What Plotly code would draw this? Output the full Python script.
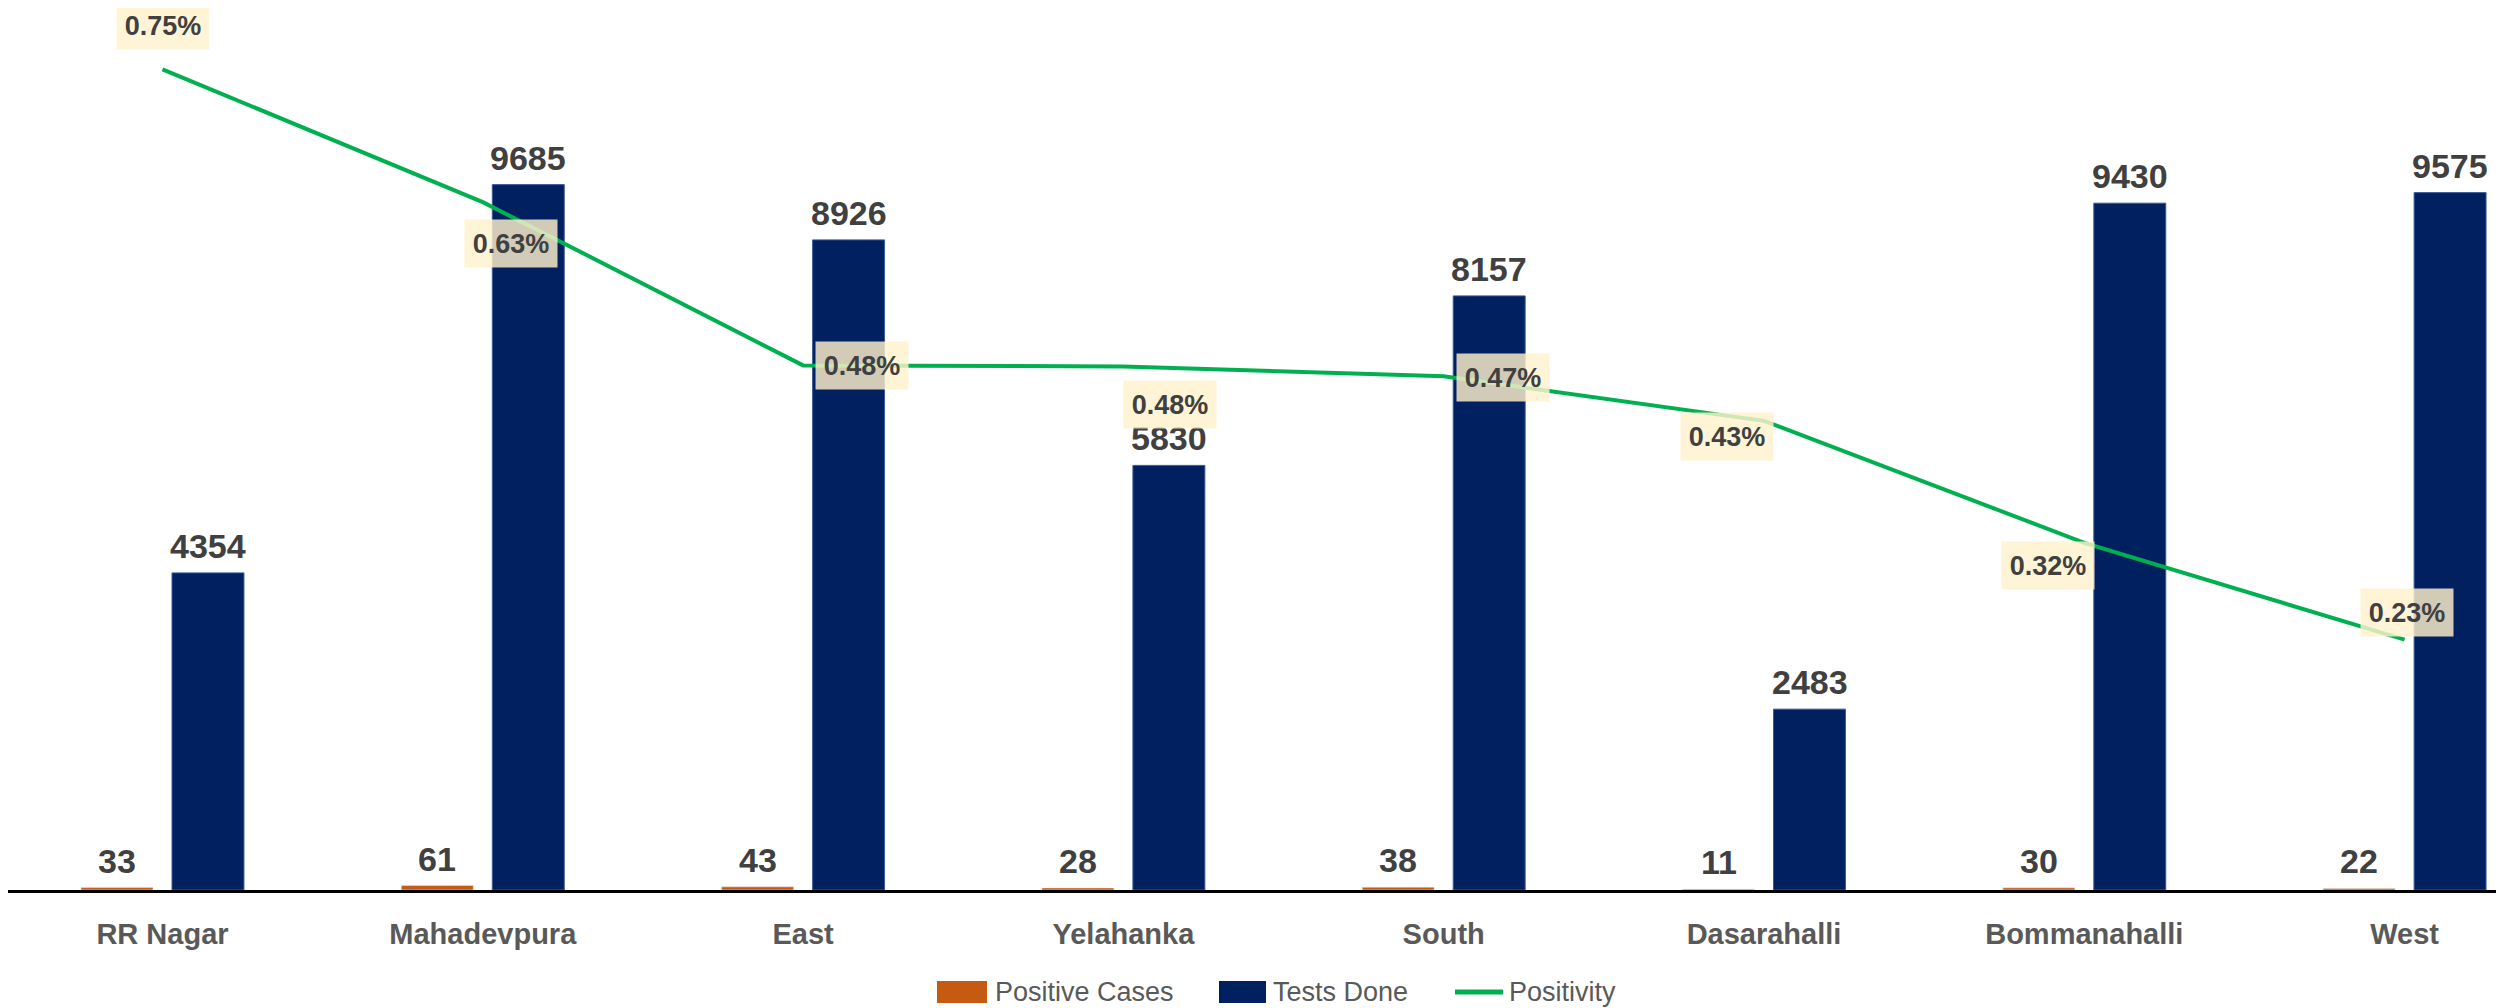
import plotly.graph_objects as go

categories = ["RR Nagar", "Mahadevpura", "East", "Yelahanka", "South",
              "Dasarahalli", "Bommanahalli", "West"]
positive_cases = [33, 61, 43, 28, 38, 11, 30, 22]
tests_done = [4354, 9685, 8926, 5830, 8157, 2483, 9430, 9575]
positivity = [0.754, 0.632, 0.482, 0.481, 0.472, 0.431, 0.319, 0.230]  # percent
positivity_labels = ["0.75%", "0.63%", "0.48%", "0.48%", "0.47%", "0.43%", "0.32%", "0.23%"]

# label offsets (pixels) for the positivity data labels
label_dx = [0, 28, 59, 47, 59, -37, -36, 2]
label_dy = [44, -41, 0, -38, -1, -16, -23, 27]

ORANGE = "#C55A11"
NAVY = "#002060"
GREEN = "#00B050"
LABEL = "#404040"
AXIS_TXT = "#595959"
FONT = "Liberation Sans"

OFF = 8                      # page body margin in the browser
W, H = 2504 - OFF, 1008 - OFF
BASE = 890 - OFF             # x-axis baseline in figure pixels
MT = 16 - OFF
MB = H - BASE
PH = H - MT - MB
CAT_W = 320.3                # pixel width of one category
X0 = 162.5 - OFF             # first category centre in figure pixels
SLOT = 91                    # pixel distance between the two bars of a group

fig = go.Figure()
fig.add_trace(go.Bar(
    x=categories, y=positive_cases, name="Positive Cases",
    marker=dict(color=ORANGE),
))
fig.add_trace(go.Bar(
    x=categories, y=tests_done, name="Tests Done",
    marker=dict(color=NAVY, line=dict(color="#3A5A9A", width=1)),
))
fig.add_trace(go.Scatter(
    x=categories, y=positivity, name="Positivity", yaxis="y2",
    mode="lines", line=dict(color=GREEN, width=4),
    cliponaxis=False,
))

annotations = []
# bar value labels
for series, shift in [(positive_cases, -SLOT / 2), (tests_done, SLOT / 2)]:
    for c, v in zip(categories, series):
        annotations.append(dict(
            x=c, y=v, xref="x", yref="y", text=str(v), showarrow=False,
            xshift=shift, yshift=27, yanchor="middle",
            font=dict(family=FONT, size=34, color=LABEL, weight="bold"),
        ))

# positivity labels
for c, v, t, dx, dy in zip(categories, positivity, positivity_labels, label_dx, label_dy):
    annotations.append(dict(
        x=c, y=v, xref="x", yref="y2", text=t, showarrow=False,
        xshift=dx, yshift=dy,
        font=dict(family=FONT, size=27, color=LABEL, weight="bold"),
        bgcolor="rgba(255,242,204,0.82)", borderpad=6,
        width=80, height=35,
    ))

# custom legend (reference pixel coordinates)
def px_x(p):
    return (p - OFF) / W

def px_y(p):
    return (BASE - (p - OFF)) / PH

leg_y = 992
shapes = [
    dict(type="rect", xref="paper", yref="paper",
         x0=px_x(937), x1=px_x(987), y0=px_y(981), y1=px_y(1003),
         fillcolor=ORANGE, line=dict(width=0)),
    dict(type="rect", xref="paper", yref="paper",
         x0=px_x(1219), x1=px_x(1266), y0=px_y(981), y1=px_y(1003),
         fillcolor=NAVY, line=dict(width=0)),
    dict(type="line", xref="paper", yref="paper",
         x0=px_x(1455), x1=px_x(1503), y0=px_y(leg_y), y1=px_y(leg_y),
         line=dict(color=GREEN, width=5)),
]
for name, x0 in [("Positive Cases", 993), ("Tests Done", 1271), ("Positivity", 1507)]:
    annotations.append(dict(
        x=px_x(x0), y=px_y(leg_y), xref="paper", yref="paper",
        text=name, showarrow=False, xanchor="left", yanchor="middle",
        font=dict(family=FONT, size=27, color=AXIS_TXT),
    ))

fig.update_layout(
    width=W, height=H,
    margin=dict(l=0, r=0, t=MT, b=MB),
    paper_bgcolor="white", plot_bgcolor="white",
    barmode="group", bargap=0.432, bargroupgap=0.209,
    showlegend=False,
    xaxis=dict(
        type="category",
        range=[-X0 / CAT_W, (W - X0) / CAT_W],
        showline=True, linecolor="black", linewidth=3,
        showgrid=False, zeroline=False, ticks="",
        tickfont=dict(family=FONT, size=29, color=AXIS_TXT, weight="bold"),
        ticklabelstandoff=16,
    ),
    yaxis=dict(range=[0, 12000], visible=False, showgrid=False, zeroline=False),
    yaxis2=dict(range=[0, 0.803], overlaying="y", side="right", visible=False,
                showgrid=False, zeroline=False),
    annotations=annotations,
    shapes=shapes,
)

fig.write_html("out.html")
